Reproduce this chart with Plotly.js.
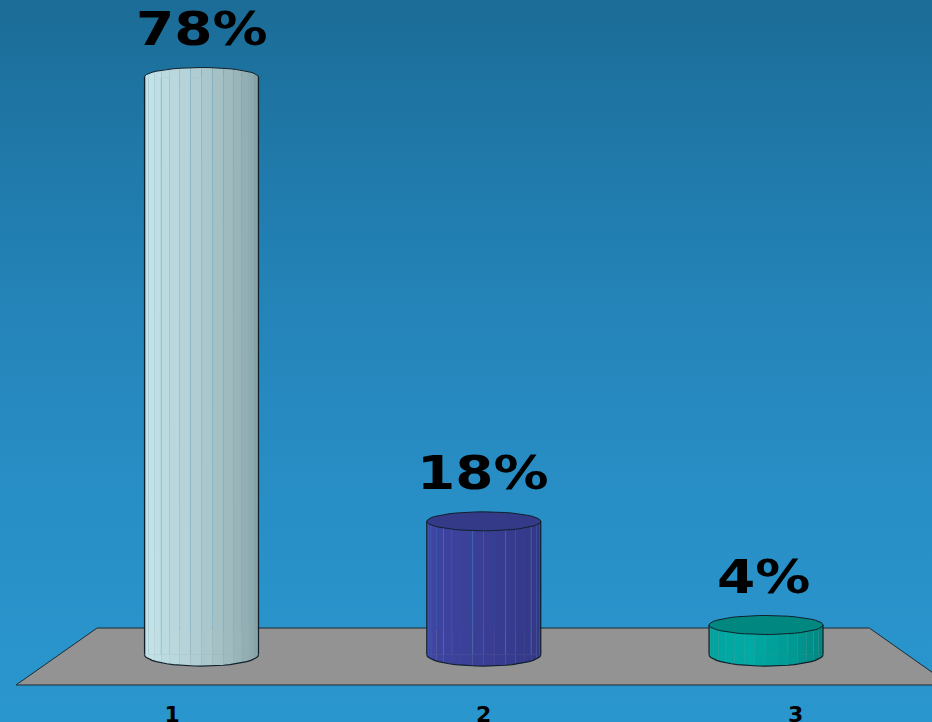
<!DOCTYPE html>
<html><head><meta charset="utf-8">
<script src="https://cdn.plot.ly/plotly-3.0.1.min.js"></script>
<style>
html,body{margin:0;padding:0;width:932px;height:722px;overflow:hidden}
#chart{width:932px;height:722px;background:linear-gradient(to bottom,#1b6c96 0%,#1f78a8 20%,#2585ba 45%,#288fc6 70%,#2a96ce 100%)}
.annotation-text{transform:scaleX(1.17);transform-box:fill-box;transform-origin:center}
</style></head><body><div id="chart"></div>
<script>
const categories = [1, 2, 3];
const values = [78, 18, 4];
const valueLabels = ['78%', '18%', '4%'];
const tickLabels = ['1', '2', '3'];
const tickPositions = [0.896, 2, 3.105];
const floorX = [0.343, 0.63, 3.366, 3.652];
const floorY = [-4.1, 3.59, 3.59, -4.1];
const leftColors = ['#cbeaed', '#4048a8', '#00a29c'];
const midColors = ['#b6d4da', '#3b4099', '#00aaa5'];
const rightColors = ['#819a9c', '#313580', '#007f78'];
const topColors = ['#b4d3d8', '#353a88', '#00877f'];
const edgeColors = ['#8fb6c6', '#4b72b8', '#2f9c98'];
const labelNudges = [0, -1, -3];

const RX = 57 / 282.25, RY = 9.5 / 7.405, RB = 11.5 / 7.405, OUT = '#10202a';
function hex(c){return [1,3,5].map(i=>parseInt(c.substr(i,2),16));}
function mix(a,b,t){const A=hex(a),B=hex(b);return 'rgb('+A.map((v,i)=>Math.round(v+(B[i]-v)*t)).join(',')+')';}
function shade(k,t){return t<0.4?mix(leftColors[k],midColors[k],t/0.4):mix(midColors[k],rightColors[k],(t-0.4)/0.6);}

const facets = 16, traces = [];
for (let f=0;f<facets;f++){
  const a0=Math.PI-Math.PI*f/facets, a1=Math.PI-Math.PI*(f+1)/facets;
  const u0=Math.cos(a0), u1=Math.cos(a1);
  const colors=categories.map((c,k)=>shade(k,(f+0.5)/facets));
  categories.forEach((c,k)=>{
    traces.push({type:'scatter',mode:'lines',
      x:[c+u0*RX,c+u1*RX,c+u1*RX,c+u0*RX,c+u0*RX],
      y:[0.05,0.05,-Math.sin(a1)*RB,-Math.sin(a0)*RB,0.05],
      fill:'toself',fillcolor:colors[k],line:{width:0},hoverinfo:'skip',showlegend:false});
  });
  // the first cylinder shows no cap: its facets run on up to the back rim
  traces.push({type:'scatter',mode:'lines',
    x:[1+u0*RX,1+u1*RX,1+u1*RX,1+u0*RX,1+u0*RX],
    y:[values[0]-0.05,values[0]-0.05,values[0]+Math.sin(a1)*RY,values[0]+Math.sin(a0)*RY,values[0]-0.05],
    fill:'toself',fillcolor:colors[0],line:{width:0},hoverinfo:'skip',showlegend:false});
  traces.push({type:'bar',x:categories.map(c=>c+(u0+u1)/2*RX),y:values,base:0,
    width:categories.map(()=>(u1-u0)*RX),
    marker:{color:colors,line:{width:f%3===1?0.6:0,color:edgeColors}},
    hoverinfo:'skip',showlegend:false});
}
categories.forEach((c,k)=>{
  const v=values[k], tx=[],ty=[],bx=[],by=[],fx=[],fy=[];
  for(let i=0;i<=48;i++){
    const a=2*Math.PI*i/48;
    tx.push(c+Math.cos(a)*RX); ty.push(v+Math.sin(a)*RY);
  }
  for(let i=0;i<=24;i++){
    const a=Math.PI-Math.PI*i/24;
    bx.push(c+Math.cos(a)*RX); by.push(-Math.sin(a)*RB);
    fx.push(c+Math.cos(a)*RX); fy.push(v+Math.sin(a)*RY);
  }
  if(k>0) traces.push({type:'scatter',mode:'lines',x:tx,y:ty,fill:'toself',fillcolor:topColors[k],
    line:{color:OUT,width:1},hoverinfo:'skip',showlegend:false});
  else traces.push({type:'scatter',mode:'lines',x:fx,y:fy,line:{color:OUT,width:1},hoverinfo:'skip',showlegend:false});
  traces.push({type:'scatter',mode:'lines',
    x:[c-RX,c-RX,null,c+RX,c+RX,null].concat(bx),
    y:[0,v,null,0,v,null].concat(by),
    line:{color:OUT,width:1.2},hoverinfo:'skip',showlegend:false});
});

const floorPath='M'+floorX.map((x,i)=>x+','+floorY[i]).join(' L')+' Z';
const layout={
  width:932,height:722,margin:{l:0,r:0,t:0,b:24},
  paper_bgcolor:'rgba(0,0,0,0)',plot_bgcolor:'rgba(0,0,0,0)',
  barmode:'overlay',showlegend:false,
  shapes:[{type:'path',xref:'x',yref:'y',path:floorPath,layer:'below',fillcolor:'#939393',line:{color:'#1c2a30',width:1}}],
  xaxis:{range:[0.286,3.588],showgrid:false,zeroline:false,showline:false,ticks:'',
    tickmode:'array',tickvals:tickPositions,ticktext:tickLabels,ticklabelstandoff:1,
    tickfont:{family:'"DejaVu Sans"',size:22,weight:700,color:'#000'}},
  yaxis:{range:[-5.86,88.4],visible:false,showgrid:false,zeroline:false},
  annotations:categories.map((c,k)=>({xref:'x',yref:'y',x:c,y:values[k],text:valueLabels[k],
    showarrow:false,yanchor:'middle',xanchor:'center',yshift:48,xshift:labelNudges[k],
    font:{family:'"DejaVu Sans"',size:47,weight:700,color:'#000'}}))
};
Plotly.newPlot('chart',traces,layout,{displayModeBar:false,staticPlot:true});
</script></body></html>
